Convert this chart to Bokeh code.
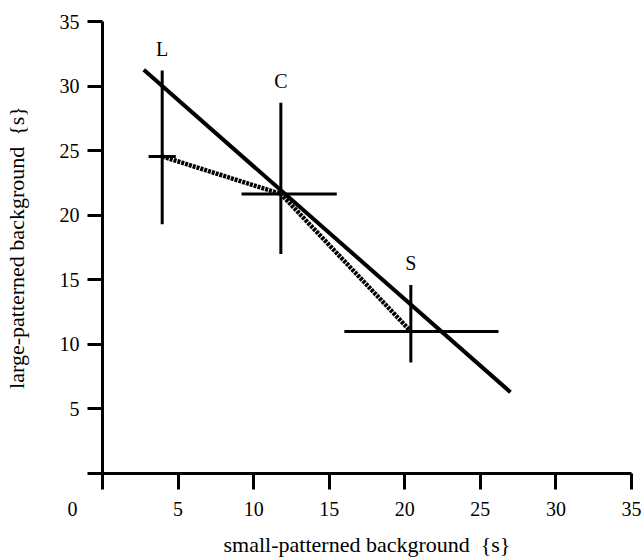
from bokeh.plotting import figure
from bokeh.models import Range1d, FixedTicker, ColumnDataSource
from bokeh.core.properties import value
from bokeh.embed import file_html
from bokeh.resources import INLINE

# ---- data ----
groups = ["L", "C", "S"]
mean_x = [3.95, 11.8, 20.4]
mean_y = [24.55, 21.65, 11.0]
x_lo = [3.05, 9.2, 16.0]
x_hi = [4.85, 15.5, 26.2]
y_lo = [19.3, 17.0, 8.6]
y_hi = [31.2, 28.7, 14.6]

reg_x = [2.73, 26.99]
reg_y = [31.26, 6.30]

x_ticks = [0, 5, 10, 15, 20, 25, 30, 35]
y_ticks = [0, 5, 10, 15, 20, 25, 30, 35]
x_title = "small-patterned background \u00a0{s}"
y_title = "large-patterned background \u00a0{s}"

FONT = "Liberation Serif"
NB = "\u00a0"

src = ColumnDataSource(dict(g=groups, x=mean_x, y=mean_y, xl=x_lo, xh=x_hi,
                            yl=y_lo, yh=y_hi))

p = figure(width=643, height=559, x_range=Range1d(0, 35), y_range=Range1d(0, 35),
           output_backend="svg", toolbar_location=None,
           min_border_left=102, min_border_right=12, min_border_top=21,
           min_border_bottom=86)
p.outline_line_color = None
p.grid.visible = False
p.background_fill_color = "white"
p.border_fill_color = "white"

for ax in p.axis:
    ax.axis_line_width = 3
    ax.axis_line_color = "black"
    ax.major_tick_line_width = 3
    ax.major_tick_line_color = "black"
    ax.major_tick_in = 0
    ax.minor_tick_line_color = None
    ax.major_label_text_font = FONT
    ax.major_label_text_font_size = "20px"
    ax.major_label_text_color = "black"
    ax.axis_label_text_font = FONT
    ax.axis_label_text_font_size = "22px"
    ax.axis_label_text_font_style = "normal"
    ax.axis_label_text_color = "black"
    ax.major_label_standoff = 8

p.xaxis.ticker = FixedTicker(ticks=x_ticks)
p.yaxis.ticker = FixedTicker(ticks=y_ticks)
p.xaxis.major_tick_out = 16
p.yaxis.major_tick_out = 15
# the shared origin "0" sits left of the origin, below the x axis
p.xaxis.major_label_overrides = {0: "0" + NB * 12}
p.yaxis.major_label_overrides = {0: ""}
p.xaxis.axis_label = x_title
p.yaxis.axis_label = y_title
p.xaxis.axis_label_standoff = 9
p.yaxis.axis_label_standoff = 28

# regression line
p.line(reg_x, reg_y, line_width=4, line_color="black")

# dotted line connecting means
p.line("x", "y", source=src, line_width=4.5, line_color="black", line_dash="3 1")

# error bars
p.segment(x0="x", y0="yl", x1="x", y1="yh", source=src, line_width=3, line_color="black")
p.segment(x0="xl", y0="y", x1="xh", y1="y", source=src, line_width=3, line_color="black")

# group labels
p.text(x="x", y="yh", text="g", source=src, text_font=value(FONT), text_font_size="20px",
       text_align="center", text_baseline="middle", y_offset=-22, text_color="black")

open("out.html", "w").write(file_html(p, INLINE))
